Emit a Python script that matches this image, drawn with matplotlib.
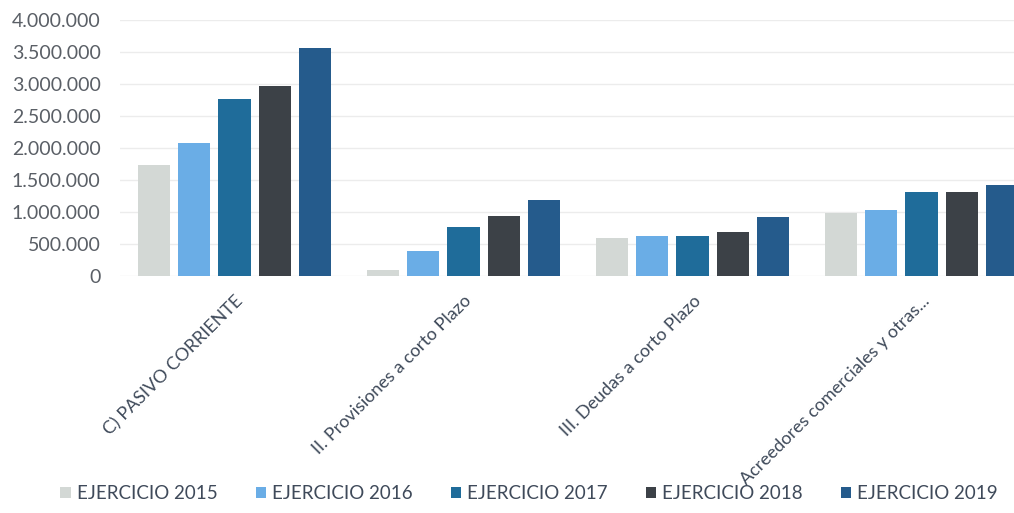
import matplotlib.pyplot as plt
import numpy as np
from matplotlib.ticker import FuncFormatter

plt.rcParams['font.family'] = ['Lato', 'DejaVu Sans']

categorias = ["C) PASIVO CORRIENTE", "II. Provisiones a corto Plazo",
              "III. Deudas a corto Plazo", "Acreedores comerciales y otras..."]
ejercicios = ["EJERCICIO 2015", "EJERCICIO 2016", "EJERCICIO 2017",
              "EJERCICIO 2018", "EJERCICIO 2019"]

v2015 = [1740000, 90000, 590000, 980000]
v2016 = [2080000, 390000, 630000, 1030000]
v2017 = [2770000, 770000, 630000, 1310000]
v2018 = [2970000, 940000, 690000, 1310000]
v2019 = [3560000, 1190000, 920000, 1420000]
valores = [v2015, v2016, v2017, v2018, v2019]

colores = ["#d3d8d5", "#6aade6", "#1f6c9a", "#3c4147", "#255b8c"]

fig = plt.figure(figsize=(10.14, 5.13), dpi=100)
ax = fig.add_axes([120/1014, 1 - 276/513, 1 - 120/1014, 256/513])

x = np.arange(len(categorias))
paso = 0.175
ancho = 0.14
for i, (serie, col) in enumerate(zip(valores, colores)):
    ax.bar(x + (i - 2) * paso, serie, ancho, color=col, label=ejercicios[i], zorder=3)

ax.set_ylim(0, 4000000)
ax.set_xlim(-0.5, -0.5 + (1014 - 120) / 229)
ax.set_yticks(np.arange(0, 4000001, 500000))
ax.yaxis.set_major_formatter(FuncFormatter(lambda v, p: f"{int(v):,}".replace(",", ".")))
ax.grid(axis='y', color='#ececec', linewidth=1, zorder=0)
for s in ax.spines.values():
    s.set_visible(False)
ax.tick_params(axis='both', length=0, colors='#5a5f66')
ax.tick_params(axis='y', pad=14, labelsize=14)

ax.set_xticks(x)
ax.set_xticklabels(categorias, rotation=45, ha='right', rotation_mode='anchor',
                   fontsize=13, color='#3f4a5a')
ax.tick_params(axis='x', pad=12)

fig.legend(loc='lower center', bbox_to_anchor=(0.522, -0.012), ncol=5, frameon=False,
           fontsize=13.5, handlelength=0.55, handleheight=0.55, handletextpad=0.35,
           columnspacing=2.0, labelcolor='#3f4a5a')

fig.savefig("out.png", dpi=100)
